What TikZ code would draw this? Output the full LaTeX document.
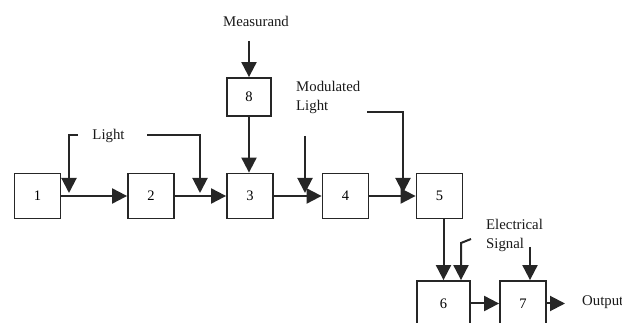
\documentclass[tikz,border=0pt]{standalone}
\usepackage{fontspec}
\setmainfont{Liberation Serif}
\usetikzlibrary{arrows.meta}
\begin{document}
\begin{tikzpicture}[x=1pt,y=-1pt,
  blk/.style={draw=black!85, line width=1.8pt, minimum width=46pt, minimum height=45pt, inner sep=0pt, font=\fontsize{14.5}{17}\selectfont},
  lbl/.style={font=\fontsize{14.8}{19}\selectfont, inner sep=0pt, align=left, text=black!90},
  conn/.style={line width=2pt, draw=black!85},
  arr/.style={conn, -{Triangle[length=15pt,width=15pt]}}]
\useasboundingbox (0,0) rectangle (622,323);
% blocks
\node[blk] (b1) at (37.5,196) {1};
\node[blk] (b2) at (151,196) {2};
\node[blk] (b3) at (250,196) {3};
\node[blk] (b4) at (345.5,196) {4};
\node[blk] (b5) at (439.5,196) {5};
\node[blk, minimum width=44pt, minimum height=38pt] (b8) at (249,97) {8};
\node[blk, minimum width=53pt] (b6) at (443.5,303.5) {6};
\node[blk] (b7) at (523,303.5) {7};
% labels
\node[lbl] (meas) at (256,21) {Measurand};
\node[lbl] (light) at (108.5,136) {Light};
\node[lbl, anchor=west] (modl) at (296,97) {Modulated\\Light};
\node[lbl, anchor=west] (elec) at (486,235.5) {Electrical\\Signal};
\node[lbl, anchor=west] (out) at (582,302) {Output};
% coordinates
\coordinate (m0) at (249,41);
\coordinate (la0) at (78,135);
\coordinate (la1) at (69,135);
\coordinate (la2) at (69,193);
\coordinate (lb0) at (147,135);
\coordinate (lb1) at (200,135);
\coordinate (lb2) at (200,193);
\coordinate (mc0) at (305,136);
\coordinate (mc1) at (305,193);
\coordinate (md0) at (367,112);
\coordinate (md1) at (403,112);
\coordinate (md2) at (403,193);
\coordinate (e0) at (471,239);
\coordinate (e1) at (461,243);
\coordinate (e2) at (530,247);
\coordinate (otip) at (565,303.5);
% connectors
\draw[arr] (m0) -- (b8.north);
\draw[arr] (b8.south) -- (b8.south |- b3.north);
\draw[arr] (b1.east) -- (b2.west);
\draw[arr] (b2.east) -- (b3.west);
\draw[arr] (b3.east) -- (b4.west);
\draw[arr] (b4.east) -- (b5.west);
\draw[arr] (la0) -- (la1) -- (la2);
\draw[arr] (lb0) -- (lb1) -- (lb2);
\draw[arr] (mc0) -- (mc1);
\draw[arr] (md0) -- (md1) -- (md2);
\draw[arr] (b5.south -| b6.north) -- (b6.north);
\draw[arr] (e0) -- (e1) -- (e1 |- b6.north);
\draw[arr] (e2) -- (e2 |- b7.north);
\draw[arr] (b6.east) -- (b7.west);
\draw[arr] (b7.east) -- (otip);
\end{tikzpicture}
\end{document}
